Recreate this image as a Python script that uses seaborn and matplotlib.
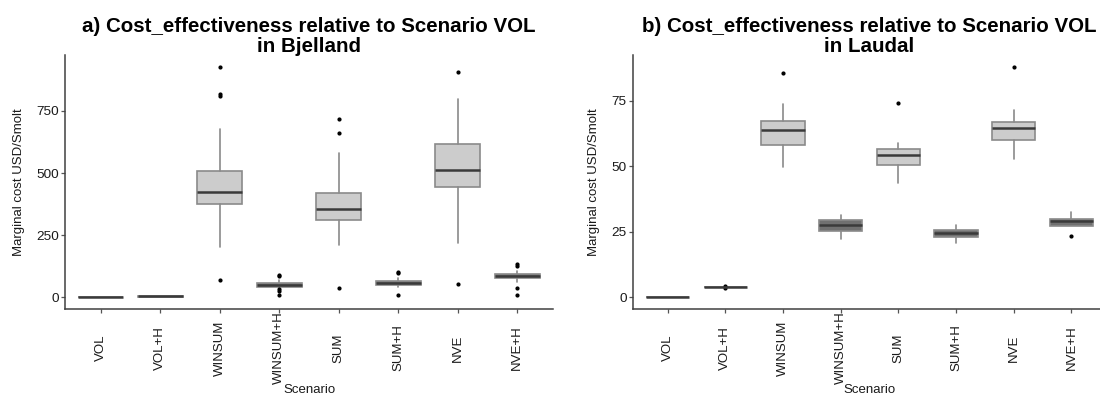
import matplotlib
matplotlib.use("Agg")
import matplotlib.pyplot as plt
import seaborn as sns

# ---------------- data ----------------
categories = ["VOL", "VOL+H", "WINSUM", "WINSUM+H", "SUM", "SUM+H", "NVE", "NVE+H"]
hydro = [False, True, False, True, False, True, False, True]

# Panel a: Bjelland
whislo_a = [0, 3.5, 204, 39, 210, 42, 220, 62]
q1_a = [0, 3.5, 376, 43, 312, 50, 443, 78]
med_a = [0, 4.0, 422, 49, 357, 57, 512, 86]
q3_a = [0, 4.5, 508, 57, 419, 66, 616, 95]
whishi_a = [0, 4.5, 678, 72, 580, 80, 797, 108]
fliers_a = [[], [], [928, 817, 808, 71], [92, 85, 32, 27, 8], [718, 659, 37],
            [104, 97, 8], [908, 54], [135, 127, 38, 10]]

# Panel b: Laudal
whislo_b = [0, 3.9, 49.7, 22.4, 43.5, 20.8, 53.0, 27.4]
q1_b = [0, 3.9, 58.1, 25.5, 50.7, 23.0, 60.1, 27.4]
med_b = [0, 4.0, 63.9, 27.6, 54.2, 24.7, 64.7, 29.1]
q3_b = [0, 4.1, 67.5, 29.7, 56.7, 25.8, 67.0, 30.1]
whishi_b = [0, 4.1, 73.9, 31.6, 58.8, 27.5, 71.6, 32.5]
fliers_b = [[], [4.4, 3.6], [85.7], [], [74.1], [], [88.1], [23.4]]

titles = ["a) Cost_effectiveness relative to Scenario VOL\nin Bjelland",
          "b) Cost_effectiveness relative to Scenario VOL\nin Laudal"]
yticks_a = [0, 250, 500, 750]
yticks_b = [0, 25, 50, 75]
ylabel = "Marginal cost USD/Smolt"
xlabel = "Scenario"

# ---------------- style ----------------
sns.set_theme(style="white")
plt.rcParams["font.family"] = ["Liberation Sans", "DejaVu Sans"]

light_fill = "#cccccc"
dark_fill = "#707070"
edge_col = "#8a8a8a"
median_col = "#3a3a3a"
text_col = "#1a1a1a"

fig = plt.figure(figsize=(11.0, 3.96), dpi=100)
W, H = 1100.0, 396.0
ax_a = fig.add_axes([65 / W, 1 - 309 / H, 488 / W, 254 / H])
ax_b = fig.add_axes([633 / W, 1 - 309 / H, 473 / W, 254 / H])


def build_stats(lo, q1, med, q3, hi, fl):
    stats = []
    for i in range(len(categories)):
        stats.append(dict(whislo=lo[i], q1=q1[i], med=med[i], q3=q3[i],
                          whishi=hi[i], fliers=fl[i], label=categories[i]))
    return stats


def draw(ax, stats, yticks, title):
    pos = list(range(len(categories)))
    bp = ax.bxp(stats, positions=pos, widths=0.75, patch_artist=True,
                showcaps=False,
                boxprops=dict(edgecolor=edge_col, linewidth=1.2),
                medianprops=dict(color=median_col, linewidth=1.8),
                whiskerprops=dict(color=edge_col, linewidth=1.2),
                flierprops=dict(marker="o", markersize=2.0,
                                markerfacecolor="black",
                                markeredgecolor="black"))
    for patch, h in zip(bp["boxes"], hydro):
        patch.set_facecolor(dark_fill if h else light_fill)

    lo = min(min(s["whislo"] for s in stats),
             min([min(s["fliers"]) for s in stats if len(s["fliers"])] + [0]))
    hi = max(max(s["whishi"] for s in stats),
             max([max(s["fliers"]) for s in stats if len(s["fliers"])] + [0]))
    rng = hi - lo
    ax.set_ylim(lo - 0.05 * rng, hi + 0.05 * rng)
    ax.set_xlim(-0.6, len(categories) - 0.4)

    ax.set_xticks(pos)
    ax.set_xticklabels(categories, rotation=90, va="center", ha="center",
                       fontsize=9.5, color=text_col)
    ax.set_yticks(yticks)
    ax.set_yticklabels([str(t) for t in yticks], fontsize=9.7, color=text_col)
    ax.tick_params(axis="x", bottom=True, direction="out", length=3,
                   width=0.9, color="#555555", pad=25)
    ax.tick_params(axis="y", left=True, direction="out", length=3,
                   width=0.9, color="#555555", pad=1.5)

    for side in ["top", "right"]:
        ax.spines[side].set_visible(False)
    for side in ["left", "bottom"]:
        ax.spines[side].set_color("#404040")
        ax.spines[side].set_linewidth(1.1)

    ax.set_ylabel(ylabel, fontsize=9.5, color=text_col, labelpad=8)
    ax.set_xlabel(xlabel, fontsize=9.5, color=text_col, labelpad=0)
    ax.set_title(title, fontsize=14.8, fontweight="bold", color="black",
                 pad=2, linespacing=1.05)
    ax.grid(False)


draw(ax_a, build_stats(whislo_a, q1_a, med_a, q3_a, whishi_a, fliers_a),
     yticks_a, titles[0])
draw(ax_b, build_stats(whislo_b, q1_b, med_b, q3_b, whishi_b, fliers_b),
     yticks_b, titles[1])

fig.savefig("out.png", dpi=100, facecolor="white")
